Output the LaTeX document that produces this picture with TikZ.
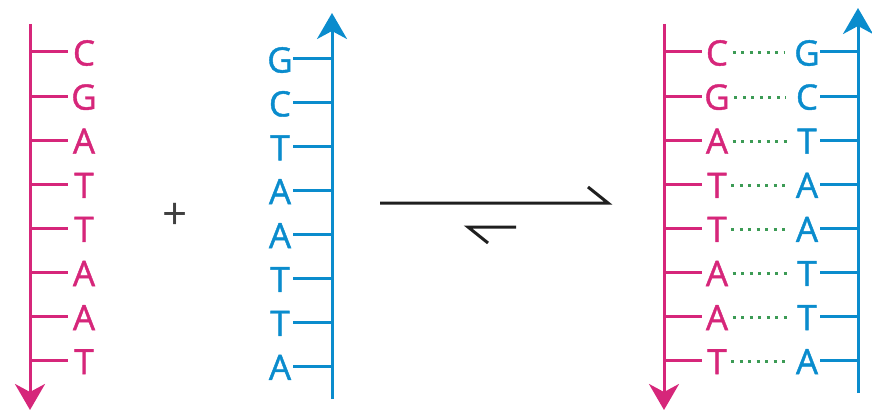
\documentclass[tikz,border=0pt]{standalone}
\usepackage{fontspec}
\setmainfont{Open Sans}
\newfontfamily\basefont{Open Sans}[FakeBold=1.2]
\usetikzlibrary{arrows.meta}
\definecolor{Pink}{RGB}{214, 38, 122}
\definecolor{Blue}{RGB}{10, 140, 205}
\definecolor{Green}{RGB}{60, 155, 85}

\begin{document}
\begin{tikzpicture}[
        x=1pt, y=-1pt,
        font=\basefont\fontsize{35}{35}\selectfont,
        line width=3pt,
        base/.style = {inner sep=0pt, text=#1},
        backbone/.style = {draw=#1, -{Stealth[length=26pt, width=30pt, inset=8pt]}},
        bond/.style = {draw=Green, dash pattern=on 3pt off 5.5pt, shorten <=3pt, shorten >=8pt}
    ]
    \useasboundingbox (0,0) rectangle (872,414);

    % separate strands
    \draw[backbone=Pink] (30,24) -- (30,410);
    \draw[backbone=Blue] (332,399) -- (332,13);
    \foreach \p/\q [count=\i] in {C/G, G/C, A/T, T/A, T/A, A/T, A/T, T/A} {
        \coordinate (sb\i) at (30, {52+44.1*(\i-1)});
        \coordinate (tb\i) at (332, {59+43.9*(\i-1)});
        \node (s\i) at (84, {53+44.1*(\i-1)}) [base=Pink] {\p};
        \node (t\i) at (280, {60+43.9*(\i-1)}) [base=Blue] {\q};
        \draw[Pink] (sb\i) -- ++(38,0);
        \draw[Blue] (tb\i) -- ++(-39,0);
    }

    \node (plus) at (175,216) [text=black!75, font=\fontsize{44}{44}\selectfont] {+};

    % equilibrium
    \draw[black!88, line join=miter] (380,203) -- (608,203) -- (588,187);
    \draw[black!88, line join=miter] (516,227) -- (468,227) -- (488,243);

    % duplex
    \draw[backbone=Pink] (664,24) -- (664,410);
    \draw[backbone=Blue] (858,393) -- (858,8);
    \foreach \p/\q [count=\i] in {C/G, G/C, A/T, T/A, T/A, A/T, A/T, T/A} {
        \coordinate (pb\i) at (664, {52+44.1*(\i-1)});
        \coordinate (qb\i) at (858, {52+44.1*(\i-1)});
        \node (p\i) at (717, {53+44.1*(\i-1)}) [base=Pink] {\p};
        \node (q\i) at (807, {53+44.1*(\i-1)}) [base=Blue] {\q};
        \draw[Pink] (pb\i) -- ++(38,0);
        \draw[Blue] (qb\i) -- ++(-38,0);
        \draw[bond] (p\i.east) -- (q\i.west);
    }
\end{tikzpicture}
\end{document}
